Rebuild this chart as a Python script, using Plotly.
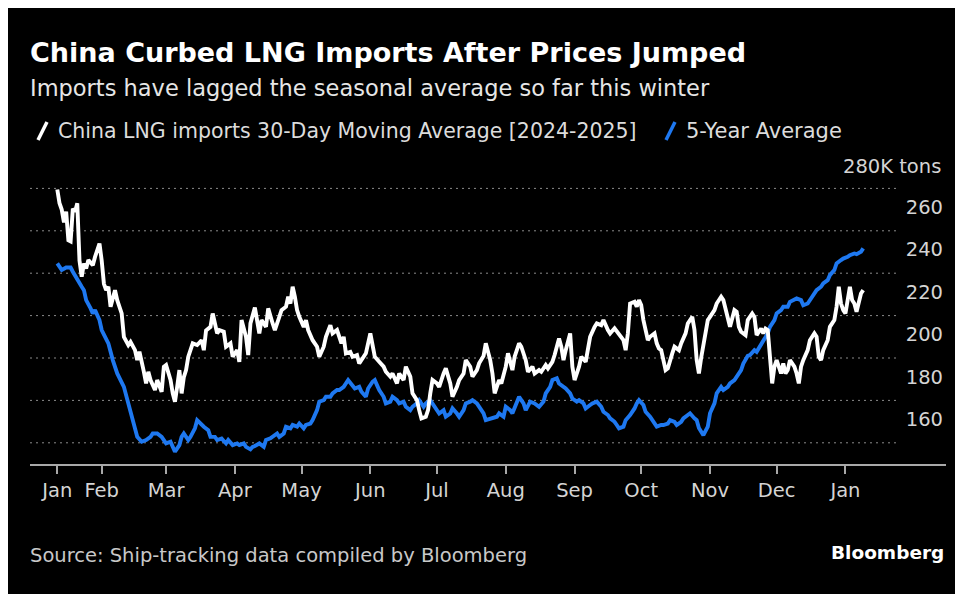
import plotly.graph_objects as go

# China LNG imports, 30-day moving average (thousand tons)
china_dates = [
    "2024-01-12", "2024-01-13", "2024-01-14", "2024-01-15", "2024-01-16", "2024-01-17", "2024-01-18",
    "2024-01-19", "2024-01-20", "2024-01-21", "2024-01-22", "2024-01-23", "2024-01-24", "2024-01-25",
    "2024-01-26", "2024-01-28", "2024-01-29", "2024-01-31",
    "2024-02-01", "2024-02-02", "2024-02-03", "2024-02-04", "2024-02-05", "2024-02-07", "2024-02-08",
    "2024-02-10", "2024-02-11", "2024-02-13", "2024-02-14", "2024-02-16", "2024-02-17", "2024-02-18",
    "2024-02-20", "2024-02-21", "2024-02-22", "2024-02-23", "2024-02-25", "2024-02-26", "2024-02-28",
    "2024-02-29",
    "2024-03-01", "2024-03-03", "2024-03-04", "2024-03-05", "2024-03-06", "2024-03-07", "2024-03-08",
    "2024-03-09", "2024-03-10", "2024-03-11", "2024-03-13", "2024-03-15", "2024-03-17", "2024-03-18",
    "2024-03-19", "2024-03-21", "2024-03-22", "2024-03-24", "2024-03-25", "2024-03-27", "2024-03-28",
    "2024-03-30", "2024-03-31",
    "2024-04-02", "2024-04-03", "2024-04-04", "2024-04-06", "2024-04-07", "2024-04-08", "2024-04-10",
    "2024-04-12", "2024-04-13", "2024-04-15", "2024-04-16", "2024-04-18", "2024-04-19", "2024-04-21",
    "2024-04-22", "2024-04-24", "2024-04-25", "2024-04-26", "2024-04-27", "2024-04-28", "2024-04-29",
    "2024-04-30",
    "2024-05-02", "2024-05-03", "2024-05-04", "2024-05-06", "2024-05-08", "2024-05-09", "2024-05-11",
    "2024-05-12", "2024-05-14", "2024-05-15", "2024-05-17", "2024-05-19", "2024-05-20", "2024-05-21",
    "2024-05-23", "2024-05-24", "2024-05-26", "2024-05-27", "2024-05-29", "2024-05-30",
    "2024-06-01", "2024-06-02", "2024-06-03", "2024-06-05", "2024-06-07", "2024-06-08", "2024-06-10",
    "2024-06-11", "2024-06-13", "2024-06-14", "2024-06-16", "2024-06-17", "2024-06-19", "2024-06-20",
    "2024-06-22", "2024-06-23", "2024-06-24", "2024-06-26", "2024-06-27", "2024-06-28", "2024-06-29",
    "2024-07-01", "2024-07-02", "2024-07-04", "2024-07-05", "2024-07-07", "2024-07-08", "2024-07-10",
    "2024-07-11", "2024-07-13", "2024-07-14", "2024-07-16", "2024-07-17", "2024-07-19", "2024-07-20",
    "2024-07-22", "2024-07-23", "2024-07-25", "2024-07-26", "2024-07-27", "2024-07-29", "2024-07-30",
    "2024-08-01", "2024-08-02", "2024-08-04", "2024-08-05", "2024-08-07", "2024-08-08", "2024-08-10",
    "2024-08-11", "2024-08-13", "2024-08-14", "2024-08-16", "2024-08-17", "2024-08-19", "2024-08-20",
    "2024-08-22", "2024-08-23", "2024-08-25", "2024-08-26", "2024-08-27", "2024-08-28", "2024-08-30",
    "2024-08-31",
    "2024-09-01", "2024-09-03", "2024-09-04", "2024-09-06", "2024-09-07", "2024-09-08", "2024-09-10",
    "2024-09-11", "2024-09-13", "2024-09-14", "2024-09-16", "2024-09-17", "2024-09-19", "2024-09-20",
    "2024-09-22", "2024-09-23", "2024-09-24", "2024-09-25", "2024-09-26", "2024-09-28", "2024-09-29",
    "2024-09-30",
    "2024-10-01", "2024-10-02", "2024-10-04", "2024-10-05", "2024-10-07", "2024-10-08", "2024-10-09",
    "2024-10-10", "2024-10-12", "2024-10-13", "2024-10-15", "2024-10-16", "2024-10-18", "2024-10-19",
    "2024-10-21", "2024-10-22", "2024-10-24", "2024-10-25", "2024-10-26", "2024-10-27", "2024-10-28",
    "2024-10-30", "2024-10-31",
    "2024-11-01", "2024-11-03", "2024-11-04", "2024-11-06", "2024-11-07", "2024-11-08", "2024-11-09",
    "2024-11-10", "2024-11-12", "2024-11-13", "2024-11-14", "2024-11-15", "2024-11-17", "2024-11-18",
    "2024-11-20", "2024-11-21", "2024-11-22", "2024-11-24", "2024-11-25", "2024-11-26", "2024-11-27",
    "2024-11-28", "2024-11-29", "2024-11-30",
    "2024-12-01", "2024-12-03", "2024-12-04", "2024-12-05", "2024-12-06", "2024-12-07", "2024-12-09",
    "2024-12-10", "2024-12-11", "2024-12-12", "2024-12-13", "2024-12-15", "2024-12-16", "2024-12-18",
    "2024-12-19", "2024-12-20", "2024-12-21", "2024-12-22", "2024-12-24", "2024-12-25", "2024-12-27",
    "2024-12-28", "2024-12-29", "2024-12-30", "2024-12-31",
    "2025-01-01", "2025-01-03", "2025-01-04", "2025-01-05", "2025-01-06", "2025-01-07", "2025-01-08",
    "2025-01-09",
]
china_values = [
    279.5, 273, 270, 264, 269, 255.5, 255,
    270.5, 269, 273, 246, 238.3, 244.6, 242.2,
    246.2, 243.8, 247.7, 254,
    246, 235, 232, 233.6, 224.2, 232, 227.3,
    221, 210, 206.1, 207.6, 203.7, 199, 203,
    193.5, 188, 193.5, 189.6, 184.9, 189.6, 184.1,
    195.9,
    196.7, 189.6, 183.3, 179.4, 186.4, 194.3, 183.3,
    191, 194.3, 200.6, 206.9, 206.1, 208.4, 203.7,
    213, 214.7, 221, 211.6, 213.2, 212.4, 205.3,
    206.9, 200.6,
    203.7, 198.2, 217.9, 210, 201.4, 216.3, 223.8,
    211.6, 217.9, 214.7, 223.4, 216.3, 213.2, 219.4,
    222.6, 224.2, 228.9, 225.7, 233.6, 228.9, 222.6,
    219.4,
    214.7, 217.9, 213.2, 208.4, 205.3, 200.6, 205.3,
    210, 215.5, 211.6, 213.2, 206.9, 210, 202.2,
    202.9, 200.6, 201.4, 197.4, 200.6, 202.2,
    211.6, 206.9, 200.6, 198.2, 195.9, 193.5, 191.2,
    192.7, 188, 192.7, 189.6, 195.9, 191.2, 183.3,
    180.1, 175.4, 171.5, 172.3, 175.4, 183.3, 189.6,
    188, 186.4, 192.7, 195.1, 188, 181.7, 186.4,
    189.6, 192.7, 199, 195.9, 191.2, 194.3, 197.5,
    201, 206.9, 199, 192.7, 183.3, 189.6, 188,
    195.9, 202.2, 194.3, 200.6, 206.9, 205.3, 199,
    193.5, 195.9, 192.7, 194.3, 193.5, 196.7, 195.1,
    198.2, 201.4, 209.2, 205.3, 199, 203.7, 211.6,
    195.9,
    189.6, 195.9, 200.6, 198.2, 205.3, 210, 214.7,
    216.3, 215.5, 217.9, 213.2, 211.6, 214, 212.4,
    210, 208.4, 203.7, 211.6, 225.7, 226.5, 224.2,
    227.3,
    225, 217.9, 208.4, 210, 211.6, 206.9, 204.5,
    203.7, 194.3, 195.1, 202.2, 205.3, 203.7, 206.9,
    211.6, 216.3, 219.4, 213.2, 199, 192.7, 200,
    212, 217.9,
    219.4, 222.6, 225.7, 228.9, 227.3, 222.6, 217.9,
    214.7, 222.6, 221.8, 214.7, 212.4, 210.8, 217.9,
    221, 219.4, 210.8, 213.9, 211.6, 213.9, 213.2,
    202.2, 188, 195.9,
    199, 192.7, 197.4, 192.7, 194.3, 199, 195.9,
    192.7, 188, 195.9, 199, 203.7, 208.4, 211.6,
    210, 200.6, 199, 203.7, 208.4, 214.7, 217.9,
    224.2, 233.6, 225.7, 222.6,
    221, 233.6, 227.3, 225.7, 221.8, 226.5, 230.4,
    232,
]

# 5-year average (thousand tons)
avg_dates = [
    "2024-01-12", "2024-01-14", "2024-01-16", "2024-01-18", "2024-01-19", "2024-01-21", "2024-01-23",
    "2024-01-24", "2024-01-25", "2024-01-27", "2024-01-28", "2024-01-29", "2024-01-30", "2024-01-31",
    "2024-02-01", "2024-02-04", "2024-02-06", "2024-02-08", "2024-02-11", "2024-02-13", "2024-02-15",
    "2024-02-17", "2024-02-19", "2024-02-21", "2024-02-23", "2024-02-24", "2024-02-26", "2024-02-28",
    "2024-03-01", "2024-03-03", "2024-03-04", "2024-03-05", "2024-03-07", "2024-03-08", "2024-03-09",
    "2024-03-11", "2024-03-12", "2024-03-14", "2024-03-15", "2024-03-17", "2024-03-18", "2024-03-20",
    "2024-03-21", "2024-03-23", "2024-03-24", "2024-03-26", "2024-03-28", "2024-03-29", "2024-03-31",
    "2024-04-02", "2024-04-03", "2024-04-05", "2024-04-06", "2024-04-08", "2024-04-09", "2024-04-10",
    "2024-04-12", "2024-04-14", "2024-04-15", "2024-04-17", "2024-04-18", "2024-04-20", "2024-04-21",
    "2024-04-23", "2024-04-24", "2024-04-26", "2024-04-27", "2024-04-29", "2024-04-30",
    "2024-05-02", "2024-05-03", "2024-05-05", "2024-05-06", "2024-05-08", "2024-05-09", "2024-05-11",
    "2024-05-12", "2024-05-14", "2024-05-15", "2024-05-17", "2024-05-18", "2024-05-20", "2024-05-22",
    "2024-05-24", "2024-05-25", "2024-05-27", "2024-05-28", "2024-05-30", "2024-05-31",
    "2024-06-02", "2024-06-03", "2024-06-04", "2024-06-05", "2024-06-07", "2024-06-08", "2024-06-10",
    "2024-06-11", "2024-06-13", "2024-06-14", "2024-06-16", "2024-06-17", "2024-06-19", "2024-06-20",
    "2024-06-22", "2024-06-23", "2024-06-25", "2024-06-26", "2024-06-28", "2024-06-29",
    "2024-07-01", "2024-07-02", "2024-07-04", "2024-07-05", "2024-07-07", "2024-07-08", "2024-07-10",
    "2024-07-11", "2024-07-13", "2024-07-14", "2024-07-16", "2024-07-17", "2024-07-19", "2024-07-20",
    "2024-07-22", "2024-07-23", "2024-07-26", "2024-07-28", "2024-07-29", "2024-07-31",
    "2024-08-01", "2024-08-03", "2024-08-04", "2024-08-06", "2024-08-07", "2024-08-09", "2024-08-10",
    "2024-08-12", "2024-08-14", "2024-08-16", "2024-08-18", "2024-08-19", "2024-08-21", "2024-08-22",
    "2024-08-24", "2024-08-25", "2024-08-27", "2024-08-28", "2024-08-30", "2024-08-31",
    "2024-09-02", "2024-09-03", "2024-09-05", "2024-09-06", "2024-09-08", "2024-09-09", "2024-09-11",
    "2024-09-13", "2024-09-14", "2024-09-16", "2024-09-17", "2024-09-19", "2024-09-20", "2024-09-21",
    "2024-09-23", "2024-09-24", "2024-09-26", "2024-09-28", "2024-09-29", "2024-09-30",
    "2024-10-02", "2024-10-03", "2024-10-05", "2024-10-07", "2024-10-08", "2024-10-10", "2024-10-11",
    "2024-10-13", "2024-10-14", "2024-10-16", "2024-10-17", "2024-10-19", "2024-10-20", "2024-10-22",
    "2024-10-23", "2024-10-25", "2024-10-26", "2024-10-27", "2024-10-29", "2024-10-31",
    "2024-11-01", "2024-11-03", "2024-11-04", "2024-11-06", "2024-11-07", "2024-11-09", "2024-11-10",
    "2024-11-12", "2024-11-13", "2024-11-15", "2024-11-16", "2024-11-18", "2024-11-19", "2024-11-21",
    "2024-11-22", "2024-11-24", "2024-11-25", "2024-11-27", "2024-11-28", "2024-11-30",
    "2024-12-01", "2024-12-03", "2024-12-04", "2024-12-06", "2024-12-07", "2024-12-09", "2024-12-10",
    "2024-12-12", "2024-12-13", "2024-12-15", "2024-12-16", "2024-12-18", "2024-12-19", "2024-12-21",
    "2024-12-22", "2024-12-24", "2024-12-25", "2024-12-27", "2024-12-28", "2024-12-30", "2024-12-31",
    "2025-01-02", "2025-01-03", "2025-01-05", "2025-01-06", "2025-01-08", "2025-01-09",
]
avg_values = [
    244.6, 241.5, 242.7, 242.7, 240.7, 236.7, 233.6,
    232, 227.3, 223.4, 221, 222.6, 220.2, 217.9,
    213.2, 206.9, 199, 192.7, 186.4, 178.6, 170.7,
    162.8, 160.5, 161.3, 162.8, 164.4, 164.4, 162.8,
    159.7, 160.5, 158.1, 155.8, 158.9, 162.8, 164.4,
    161.3, 162.8, 166.8, 170.7, 168.3, 167.6, 166,
    162.8, 162.8, 161.3, 162, 159.7, 161.3, 158.9,
    159.7, 158.9, 159.7, 158.1, 156.9, 158.1, 158.5,
    159.7, 158.1, 161.3, 162.1, 162.8, 164.4, 162.8,
    164.4, 167.6, 166.8, 168.4, 167.6, 169.1,
    166.8, 168.4, 169.1, 170.7, 175.4, 179.4, 180.1,
    181.7, 181.7, 183.3, 184.9, 184.9, 186.4, 189.6,
    187.2, 185.6, 186.4, 184.1, 181.7, 185.6,
    188.8, 189.6, 187.2, 184.9, 181.7, 178.6, 179.4,
    181.7, 180.1, 178.6, 179.4, 177, 175.4, 177,
    178.6, 180.1, 177, 178.6, 180.1, 178.6,
    175.4, 173.8, 175.4, 172.3, 173.8, 176.2, 173.8,
    172.3, 175.4, 178.6, 179.4, 180.1, 178.6, 177,
    173.9, 170.7, 171.5, 172.3, 173.9, 172.3,
    177, 175.4, 173.9, 178.6, 181.7, 178.6, 175.4,
    179.4, 178.6, 177, 179.4, 183.3, 186.4, 189.6,
    190.4, 188, 186.4, 185.6, 183.3, 180.9,
    179.4, 180.1, 178.6, 176.2, 177.8, 178.6, 179.4,
    177, 174.6, 173.1, 171.5, 169.9, 168.4, 166.8,
    167.6, 170.7, 173.1, 176.2, 178.6, 180.1,
    177.8, 174.6, 172.3, 169.1, 167.6, 168.4, 168.4,
    169.1, 170.7, 169.9, 168.4, 169.9, 171.5, 173.1,
    173.9, 171.5, 170.7, 167, 163.6, 167.6,
    173.9, 178.6, 183.3, 186.4, 184.9, 186.4, 188,
    189.6, 191.2, 194.3, 197.4, 201, 201.4, 203.7,
    202.9, 206.1, 208.4, 211.6, 214.7, 217.9,
    221, 222.6, 224.2, 224.2, 226.5, 227.3, 228.1,
    227.3, 224.9, 225.7, 227.3, 230.5, 232, 233.6,
    235.2, 236.7, 239.1, 241.5, 244.6, 246.2, 246.9,
    247.7, 248.5, 249.3, 249, 250.1, 251.7,
]

month_ticks = [
    "2024-01-12", "2024-02-01", "2024-03-01", "2024-04-01", "2024-05-01", "2024-06-01", "2024-07-01",
    "2024-08-01", "2024-09-01", "2024-10-01", "2024-11-01", "2024-12-01", "2025-01-01",
]
month_labels = ["Jan", "Feb", "Mar", "Apr", "May", "Jun", "Jul", "Aug", "Sep", "Oct", "Nov", "Dec", "Jan"]
y_ticks = [160, 180, 200, 220, 240, 260, 280]
y_labels = ["160", "180", "200", "220", "240", "260", "280K tons"]

FONT = "DejaVu Sans, sans-serif"
BLUE = "#1e78f0"
# the page body adds an 8px offset, so the figure itself is 955x586
OFF = 8
W, H = 955, 586
L, R, T, B = 22, 17, 138, 130


def px_x(x):
    return (x - OFF - L) / (W - L - R)


def px_y(y):
    return (H - B - (y - OFF)) / (H - T - B)


fig = go.Figure()
fig.add_trace(go.Scatter(x=avg_dates, y=avg_values, mode="lines", name="5-Year Average",
                         line=dict(color=BLUE, width=3.9)))
fig.add_trace(go.Scatter(x=china_dates, y=china_values, mode="lines",
                         name="China LNG imports 30-Day Moving Average [2024-2025]",
                         line=dict(color="white", width=3.9)))

# dotted horizontal grid, stops short of the labels
for v in y_ticks:
    fig.add_shape(type="line", xref="x domain", x0=0, x1=px_x(900), yref="y", y0=v, y1=v,
                  line=dict(color="#8a8a8a", width=1, dash="2px,4px"), layer="below")

# legend slashes
fig.add_shape(type="line", xref="paper", yref="paper", x0=px_x(38), y0=px_y(140), x1=px_x(47), y1=px_y(122),
              line=dict(color="white", width=3.5))
fig.add_shape(type="line", xref="paper", yref="paper", x0=px_x(666), y0=px_y(140), x1=px_x(675), y1=px_y(122),
              line=dict(color=BLUE, width=3.5))


def note(text, x, y, size, color, anchor="left", bold=False):
    fig.add_annotation(text=f"<b>{text}</b>" if bold else text, xref="paper", yref="paper",
                       x=px_x(x), y=px_y(y), xanchor=anchor, yanchor="middle", showarrow=False,
                       font=dict(family=FONT, size=size, color=color))


note("China Curbed LNG Imports After Prices Jumped", 28, 53, 27, "white", bold=True)
note("Imports have lagged the seasonal average so far this winter", 28, 88, 22.5, "#e6e6e6")
note("China LNG imports 30-Day Moving Average [2024-2025]", 56, 131, 20.5, "#dcdcdc")
note("5-Year Average", 684, 131, 21, "#dcdcdc")
note("Source: Ship-tracking data compiled by Bloomberg", 28, 555, 19.5, "#c8c8c8")
note("Bloomberg", 946, 552, 18.5, "white", anchor="right", bold=True)

# the long top label is placed as a note: as an inside tick label it would hide the Jan tick below it
fig.add_annotation(text=y_labels[-1], xref="paper", yref="y", x=px_x(943), y=y_ticks[-1],
                   xanchor="right", yanchor="middle", yshift=22, showarrow=False,
                   font=dict(family=FONT, size=19.5, color="#d4d4d4"))

fig.update_layout(
    width=W, height=H,
    margin=dict(l=L, r=R, t=T, b=B),
    paper_bgcolor="black",
    plot_bgcolor="black",
    showlegend=False,
    font=dict(family=FONT, color="#d4d4d4"),
)
fig.update_xaxes(
    type="date",
    range=["2023-12-30 17:00", "2025-02-15 07:00"],
    tickvals=month_ticks, ticktext=month_labels,
    ticks="outside", ticklen=8, tickwidth=1.5, tickcolor="#a8a8a8",
    showline=True, linecolor="#a8a8a8", linewidth=2,
    showgrid=False, zeroline=False,
    tickfont=dict(size=19.5, color="#d4d4d4"),
)
fig.update_yaxes(
    side="right", range=[150, 300],
    tickvals=y_ticks, ticktext=y_labels[:-1] + [""],
    ticklabelposition="inside top", ticklabelshift=-10, ticks="",
    showgrid=False, zeroline=False, showline=False,
    tickfont=dict(size=19.5, color="#d4d4d4"),
)

fig.write_html("out.html")
